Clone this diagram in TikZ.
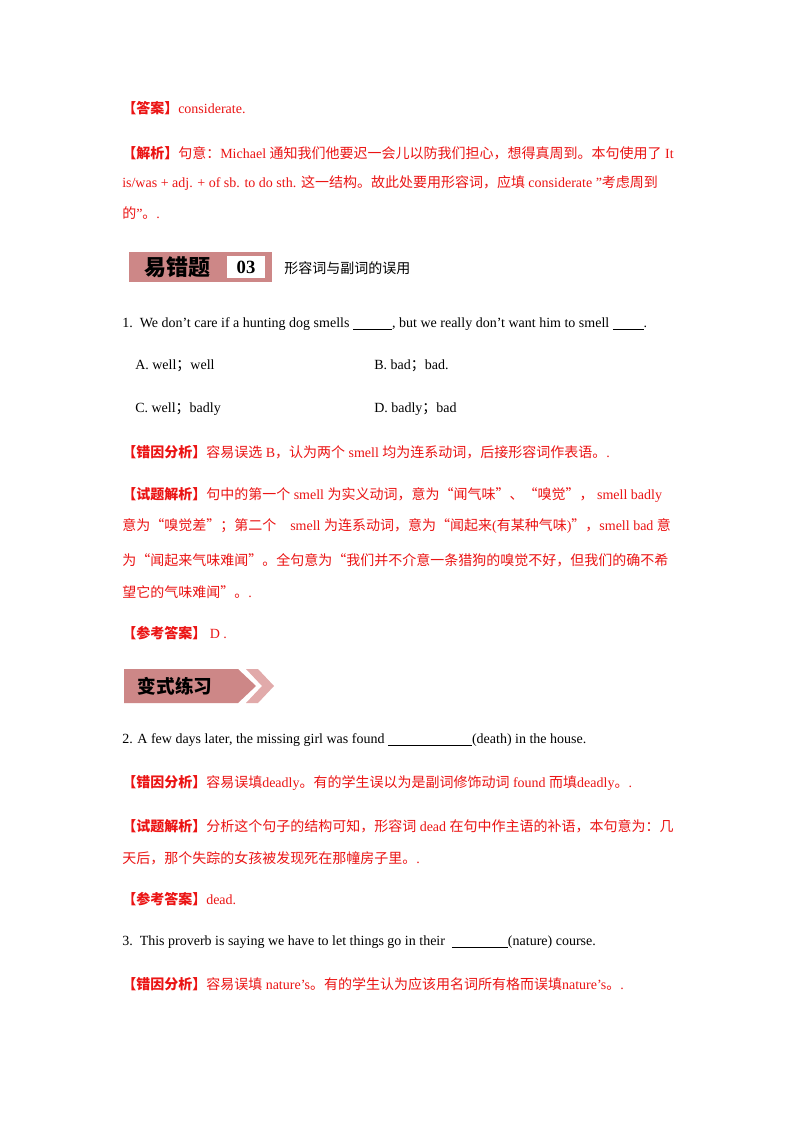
\documentclass[tikz,border=0pt]{standalone}
\usepackage{fontspec}
\setmainfont{Liberation Serif}
\newfontfamily\cjk{Noto Sans CJK SC}
\newcommand\zh[1]{{\cjk #1}}
\definecolor{ans}{RGB}{235,20,20}
\definecolor{pinkb}{RGB}{205,135,135}
\definecolor{pinkl}{RGB}{225,170,170}
\newcommand\blank[1]{\underline{\hspace{#1}}}
\begin{document}
\begin{tikzpicture}[x=0.75pt,y=-0.75pt,
  tx/.style={anchor=west,inner sep=0pt,font=\fontsize{10.5}{12}\selectfont},
  rd/.style={tx,text=ans}]
\useasboundingbox (0,0) rectangle (800,1132);
\fill[white] (0,0) rectangle (800,1132);
\node[rd] (l1) at (122,108) {\zh{\textbf{【答案】}}considerate.};
\node[rd] (l2) at (122,153) {\zh{\textbf{【解析】}句意：}Michael \zh{通知我们他要迟一会儿以防我们担心，想得真周到。本句使用了} It};
\node[rd] (l3) at (122,183) {is/was + adj. + of sb. to do sth. \zh{这一结构。故此处要用形容词，应填} considerate "\zh{考虑周到}};
\node[rd] (l4) at (122,213) {\zh{的}"\zh{。}.};
% banner 1
\fill[pinkb] (129,252) rectangle (272,282);
\fill[white] (227,256) rectangle (265,278);
\node[inner sep=0pt,font=\cjk\fontsize{16.5}{16.5}\selectfont\bfseries] (b1) at (177,267) {易错题};
\node[inner sep=0pt,font=\fontsize{14}{14}\selectfont\bfseries] (b1n) at (246,267) {03};
\node[tx] (t1) at (284,268) {\zh{形容词与副词的误用}};
\node[tx] (q1) at (122,324) {1.\ \ We don't care if a hunting dog smells \blank{2.8em}, but we really don't want him to smell \blank{2.2em}.};
\node[tx] (qa) at (135,366) {A. well\zh{；}well};
\node[tx] (qb) at (374,366) {B. bad\zh{；}bad.};
\node[tx] (qc) at (135,409) {C. well\zh{；}badly};
\node[tx] (qd) at (374,409) {D. badly\zh{；}bad};
\node[rd] (e1) at (122,452) {\zh{\textbf{【错因分析】}容易误选} B\zh{，认为两个} smell \zh{均为连系动词，后接形容词作表语。}.};
\node[rd] (s1) at (122,495) {\zh{\textbf{【试题解析】}句中的第一个} smell \zh{为实义动词，意为“闻气味”、“嗅觉”，} smell badly};
\node[rd] (s2) at (122,526) {\zh{意为“嗅觉差”；第二个}\quad smell \zh{为连系动词，意为“闻起来}(\zh{有某种气味})\zh{”，}smell bad \zh{意}};
\node[rd] (s3) at (122,560) {\zh{为“闻起来气味难闻”。全句意为“我们并不介意一条猎狗的嗅觉不好，但我们的确不希}};
\node[rd] (s4) at (122,592) {\zh{望它的气味难闻”。}.};
\node[rd] (a1) at (122,633) {\zh{\textbf{【参考答案】}}\ D .};
% banner 2
\fill[pinkb] (124,669) -- (238,669) -- (256,686) -- (238,703) -- (124,703) -- cycle;
\fill[pinkl] (246,669) -- (258,669) -- (274,686) -- (258,703) -- (246,703) -- (262,686) -- cycle;
\node[inner sep=0pt,font=\cjk\fontsize{14}{14}\selectfont\bfseries] (b2) at (175,686) {变式练习};
\node[tx] (q2) at (122,740) {2. A few days later, the missing girl was found \blank{6em}(death) in the house.};
\node[rd] (e2) at (122,783) {\zh{\textbf{【错因分析】}容易误填}deadly\zh{。有的学生误以为是副词修饰动词} found \zh{而填}deadly\zh{。}.};
\node[rd] (s5) at (122,826) {\zh{\textbf{【试题解析】}分析这个句子的结构可知，形容词} dead \zh{在句中作主语的补语，本句意为：几}};
\node[rd] (s6) at (122,858) {\zh{天后，那个失踪的女孩被发现死在那幢房子里。}.};
\node[rd] (a2) at (122,899) {\zh{\textbf{【参考答案】}}dead.};
\node[tx] (q3) at (122,942) {3.\ \ This proverb is saying we have to let things go in their \ \textbf{\blank{4em}}(nature) course.};
\node[rd] (e3) at (122,984) {\zh{\textbf{【错因分析】}容易误填} nature's\zh{。有的学生认为应该用名词所有格而误填}nature's\zh{。}.};
\end{tikzpicture}
\end{document}
